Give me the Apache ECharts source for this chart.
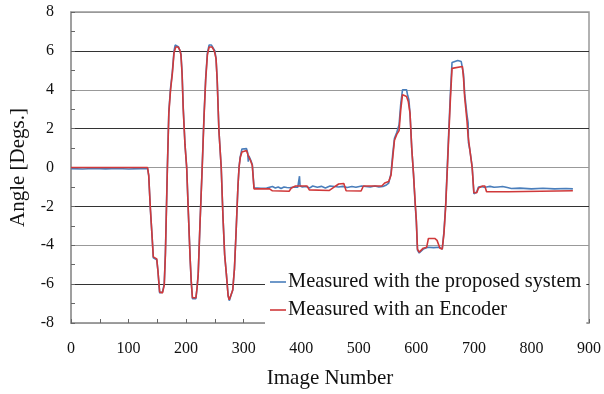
<!DOCTYPE html>
<html>
<head>
<meta charset="utf-8">
<script src="https://cdn.jsdelivr.net/npm/echarts@6/dist/echarts.min.js"></script>
<style>
  html, body { margin: 0; padding: 0; background: #fff; }
  #chart { width: 604px; height: 394px; }
</style>
</head>
<body>
<div id="chart"></div>
<script>
// Measured with the proposed system: [image number, angle]
const systemData = [
  [0, -0.06], [20, -0.08], [40, -0.05], [60, -0.07], [80, -0.05], [100, -0.08], [120, -0.06], [133, -0.05],
  [135, -0.4], [138, -2.2], [141, -3.6], [143, -4.65], [149, -4.75], [151, -5.3], [154, -6.45], [157, -6.55],
  [159, -6.4], [162, -6.0], [164, -4.4], [167.5, 0.1], [170, 2.9], [173, 4.1], [176, 4.9], [179, 6.0],
  [181, 6.3], [184, 6.28], [187, 6.2], [189, 6.1], [191, 5.85], [193, 4.9], [195, 3.1], [198, 1.2],
  [201, 0], [204, -2.4], [207, -4.7], [209, -5.9], [211, -6.75], [217, -6.75], [219, -6.2], [221, -5.5],
  [224, -3.0], [228, 0.1], [231, 2.6], [234, 4.6], [237, 5.9], [240, 6.3], [244, 6.3], [247, 6.2],
  [250, 6.0], [252, 5.6], [254, 4.5], [257, 1.9], [261, 0], [264, -2.5], [267, -4.5], [270, -5.5],
  [273, -6.6], [275, -6.85], [278, -6.85], [281, -6.3], [284, -5.2], [287, -3.2], [290, -1.0], [292, 0.05],
  [294, 0.55], [297, 0.95], [300, 1.0], [305, 0.97], [307, 0.75], [308, 0.3], [309, 0.6], [312, 0.4],
  [315, 0.15], [318, -1.05], [330, -1.07], [340, -1.06], [345, -1.02], [350, -0.98], [355, -1.05], [360, -1.0],
  [365, -1.08], [370, -1.0], [375, -1.03], [380, -1.04], [388, -1.0], [394, -1.02], [396, -0.95], [397, -0.45],
  [398, -0.95], [402, -1.0], [408, -0.98], [415, -1.05], [420, -0.95], [428, -1.02], [435, -0.97], [442, -1.05],
  [450, -0.95], [458, -0.98], [465, -1.0], [472, -0.97], [480, -1.03], [488, -0.98], [495, -1.02], [505, -0.95],
  [512, -0.98], [520, -1.0], [528, -0.95], [535, -1.0], [542, -0.98], [548, -0.9], [552, -0.8], [556, -0.3],
  [559, 0.7], [562, 1.5], [566, 1.8], [570, 2.2], [573, 3.3], [576, 4.0], [579, 4.05], [583, 4.0],
  [585, 3.7], [587, 3.5], [589, 2.8], [592, 1.0], [595, -0.3], [598, -1.9], [600, -2.8], [602, -4.25],
  [605, -4.4], [608, -4.3], [612, -4.2], [620, -4.1], [630, -4.12], [640, -4.1], [645, -4.2], [648, -3.3],
  [651, -1.9], [654, 0.2], [656, 1.6], [659, 3.7], [662, 5.4], [665, 5.5], [672, 5.5], [678, 5.45],
  [680, 5.4], [682, 4.8], [684, 3.8], [688, 2.7], [690, 2.3], [690.5, 1.3], [693, 0.9], [697, 0.05],
  [700, -1.35], [705, -1.25], [708, -1.0], [712, -0.98], [718, -1.02], [722, -1.0], [728, -0.97], [735, -1.02],
  [742, -1.0], [750, -0.98], [758, -1.03], [765, -1.08], [780, -1.06], [800, -1.1], [820, -1.07], [840, -1.1],
  [860, -1.08], [872, -1.1]
];

// Measured with an Encoder: [image number, angle]
const encoderData = [
  [0, 0], [133, 0], [135, -0.4], [138, -2.15], [141, -3.6], [143, -4.6], [149, -4.7], [151, -5.3],
  [154, -6.4], [157, -6.5], [159, -6.45], [162, -6.05], [164, -4.5], [167.5, 0], [170, 2.8], [173, 4.0],
  [176, 4.8], [179, 5.9], [182, 6.2], [186, 6.2], [189, 6.05], [191, 5.8], [193, 4.8], [195, 3.0],
  [198, 1.2], [201, 0], [204, -2.4], [207, -4.7], [209, -5.9], [211, -6.7], [217, -6.7], [219, -6.2],
  [221, -5.5], [224, -3.0], [228, 0], [231, 2.5], [234, 4.5], [237, 5.8], [240, 6.2], [245, 6.2],
  [249, 6.0], [252, 5.6], [254, 4.5], [257, 1.9], [261, 0], [264, -2.5], [267, -4.5], [270, -5.5],
  [273, -6.6], [275, -6.8], [278, -6.8], [281, -6.3], [284, -5.2], [287, -3.2], [290, -1.0], [292, 0],
  [294, 0.5], [297, 0.8], [300, 0.9], [305, 0.88], [308, 0.6], [312, 0.35], [315, 0.1], [318, -1.1],
  [345, -1.1], [350, -1.2], [379, -1.22], [383, -1.05], [390, -0.95], [410, -0.95], [414, -1.15], [449, -1.18],
  [460, -0.95], [465, -0.85], [474, -0.82], [478, -1.2], [504, -1.21], [508, -0.95], [540, -0.95], [545, -0.8],
  [552, -0.72], [556, -0.4], [559, 0.5], [562, 1.4], [566, 1.7], [570, 1.9], [573, 3.0], [576, 3.75],
  [579, 3.75], [583, 3.65], [586, 3.4], [589, 2.8], [592, 1.0], [595, -0.3], [598, -1.8], [600, -2.7],
  [602, -4.2], [605, -4.35], [608, -4.35], [612, -4.15], [618, -4.1], [621, -3.65], [632, -3.65], [636, -3.75],
  [641, -4.15], [645, -4.2], [648, -3.4], [651, -2.0], [654, 0.0], [656, 1.4], [659, 3.4], [662, 5.1],
  [665, 5.2], [680, 5.2], [682, 4.6], [684, 3.6], [688, 2.4], [690, 1.6], [693, 0.9], [697, 0],
  [700, -1.3], [705, -1.3], [708, -1.05], [715, -0.95], [719, -0.95], [722, -1.25], [760, -1.25], [872, -1.2]
];

const seriesNames = ['Measured with the proposed system', 'Measured with an Encoder'];
const seriesColors = ['#4a7ebb', '#d0393a'];

const fontFamily = '"Liberation Serif", "Times New Roman", serif';
const textColor = '#111';

const chart = echarts.init(document.getElementById('chart'), null, { renderer: 'canvas' });

const option = {
  animation: false,
  backgroundColor: '#fff',
  grid: {
    left: 67,
    right: 15,
    top: 12,
    bottom: 69,
    show: true,
    borderColor: '#999',
    borderWidth: 1.5
  },
  legend: {
    orient: 'vertical',
    left: 265,
    top: 268,
    padding: [4, 5, 4, 5],
    itemGap: 8,
    itemWidth: 16,
    itemHeight: 14,
    backgroundColor: '#fff',
    icon: 'path://M0,0 L16,0 L16,1.6 L0,1.6 Z',
    textStyle: { fontFamily: fontFamily, fontSize: 20.4, color: textColor, padding: [0, 0, 0, -3] },
    data: seriesNames
  },
  xAxis: {
    type: 'value',
    min: 0,
    max: 900,
    interval: 100,
    name: 'Image Number',
    nameLocation: 'middle',
    nameGap: 45,
    nameTextStyle: { fontFamily: fontFamily, fontSize: 21, color: textColor },
    axisLine: { show: true, onZero: false, lineStyle: { color: '#999', width: 1.5 } },
    axisTick: { show: true, inside: true, length: 4, lineStyle: { color: '#666' } },
    minorTick: { show: true, splitNumber: 2, length: 4, lineStyle: { color: '#666' } },
    axisLabel: { fontFamily: fontFamily, fontSize: 16, color: textColor, margin: 18 },
    splitLine: { show: false }
  },
  yAxis: {
    type: 'value',
    min: -8,
    max: 8,
    interval: 2,
    name: 'Angle [Degs.]',
    nameLocation: 'middle',
    nameGap: 42,
    nameTextStyle: { fontFamily: fontFamily, fontSize: 21, color: textColor },
    axisLine: { show: true, onZero: false, lineStyle: { color: '#999', width: 1.5 } },
    axisTick: { show: true, inside: true, length: 4, lineStyle: { color: '#666' } },
    minorTick: { show: true, splitNumber: 2, length: 4, lineStyle: { color: '#666' } },
    axisLabel: { fontFamily: fontFamily, fontSize: 16, color: textColor, margin: 17 },
    splitLine: { show: true, lineStyle: { color: ['#999', '#333'], width: 1.2 } }
  },
  series: [
    {
      name: seriesNames[0],
      type: 'line',
      data: systemData,
      showSymbol: false,
      symbol: 'none',
      lineStyle: { color: seriesColors[0], width: 1.6 },
      itemStyle: { color: seriesColors[0] },
      z: 2
    },
    {
      name: seriesNames[1],
      type: 'line',
      data: encoderData,
      showSymbol: false,
      symbol: 'none',
      lineStyle: { color: seriesColors[1], width: 1.6 },
      itemStyle: { color: seriesColors[1] },
      z: 3
    }
  ]
};

chart.setOption(option);
</script>
</body>
</html>
